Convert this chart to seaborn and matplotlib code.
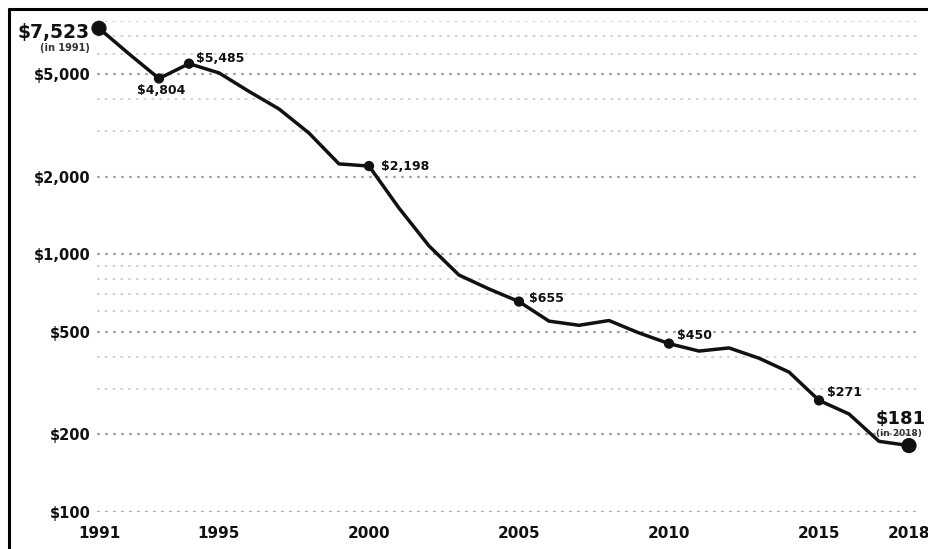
import numpy as np
import pandas as pd
import matplotlib
matplotlib.use("Agg")
import matplotlib.pyplot as plt
import seaborn as sns
from matplotlib.lines import Line2D

# ---------------- data ----------------
years = list(range(1991, 2019))
cost = [7523, 5985, 4804, 5485, 5050, 4280, 3660, 2950, 2240, 2198,
        1510, 1077, 830, 733, 655, 550, 530, 553, 495, 450,
        421, 433, 395, 349, 271, 240, 188, 181]

mid_label_years = [1993, 1994, 2000, 2005, 2010, 2015]
mid_label_texts = ["$4,804", "$5,485", "$2,198", "$655", "$450", "$271"]

end_years = [1991, 2018]
end_texts = ["$7,523", "$181"]
end_subtexts = ["(in 1991)", "(in 2018)"]

ytick_values = [100, 200, 500, 1000, 2000, 5000]
ytick_labels = ["$100", "$200", "$500", "$1,000", "$2,000", "$5,000"]
minor_grid_values = [300, 400, 600, 700, 800, 900, 3000, 4000, 6000, 7000, 8000]

xtick_values = [1991, 1995, 2000, 2005, 2010, 2015, 2018]
xtick_labels = ["1991", "1995", "2000", "2005", "2010", "2015", "2018"]

df = pd.DataFrame({"year": years, "cost": cost})
lookup = dict(zip(years, cost))

# ---------------- style ----------------
sns.set_theme(style="white")
plt.rcParams["font.family"] = ["DejaVu Sans"]

W, H = 929, 549
fig = plt.figure(figsize=(W / 100, H / 100), dpi=100)
fig.patch.set_facecolor("white")

left_px, right_px, top_px, bottom_px = 97, 917, 21.4, 512
ax = fig.add_axes([left_px / W, 1 - bottom_px / H,
                   (right_px - left_px) / W, (bottom_px - top_px) / H])
ax.set_yscale("log")
ax.set_ylim(100, 8000)
ax.set_xlim(1991 - 2 / 30, 2018 + 8 / 30)
for s in ax.spines.values():
    s.set_visible(False)
ax.set_facecolor("none")

# gridlines
for v in minor_grid_values:
    ax.axhline(v, color="#d4d4d4", lw=1.4, ls=(0, (1.4, 2.6)), zorder=0)
for v in ytick_values:
    ax.axhline(v, color="#a8a8a8", lw=1.6, ls=(0, (1.3, 2.3)), zorder=0)

# line + markers
sns.lineplot(data=df, x="year", y="cost", ax=ax, color="#111111", lw=2.5,
             zorder=3, clip_on=False)
mid_df = df[df["year"].isin(mid_label_years)]
sns.scatterplot(data=mid_df, x="year", y="cost", ax=ax, color="#111111",
                s=55, edgecolor="none", zorder=4, clip_on=False)
end_df = df[df["year"].isin(end_years)]
sns.scatterplot(data=end_df, x="year", y="cost", ax=ax, color="#111111",
                s=120, edgecolor="none", zorder=4, clip_on=False)

# ticks
ax.set_yticks(ytick_values)
ax.set_yticklabels(ytick_labels)
ax.yaxis.set_minor_locator(matplotlib.ticker.NullLocator())
ax.set_xticks(xtick_values)
ax.set_xticklabels(xtick_labels)
ax.tick_params(axis="y", length=0, pad=4.5, labelsize=10.5, labelcolor="#111111")
ax.tick_params(axis="x", length=0, pad=10, labelsize=11, labelcolor="#111111")
for t in ax.get_yticklabels() + ax.get_xticklabels():
    t.set_fontweight("bold")
ax.set_xlabel("")
ax.set_ylabel("")

# mid labels
mid_offsets = {1993: (1.5, -8.5, "center"), 1994: (5, 3.6, "left"),
               2000: (9, 0, "left"), 2005: (7, 2, "left"),
               2010: (6, 6, "left"), 2015: (6, 6, "left")}
for yr, txt in zip(mid_label_years, mid_label_texts):
    dx, dy, ha = mid_offsets[yr]
    ax.annotate(txt, (yr, lookup[yr]), xytext=(dx, dy), textcoords="offset points",
                ha=ha, va="center", fontsize=9, fontweight="bold",
                color="#111111", annotation_clip=False)

# end labels
ax.annotate(end_texts[0], (end_years[0], lookup[end_years[0]]), xytext=(-6.5, -3),
            textcoords="offset points", ha="right", va="center", fontsize=13.5,
            fontweight="bold", color="#111111", annotation_clip=False)
ax.annotate(end_subtexts[0], (end_years[0], lookup[end_years[0]]), xytext=(-6.5, -14.5),
            textcoords="offset points", ha="right", va="center", fontsize=7,
            fontweight="bold", color="#333333", annotation_clip=False)
ax.annotate(end_texts[1], (end_years[1], lookup[end_years[1]]), xytext=(-24, 19),
            textcoords="offset points", ha="left", va="center", fontsize=13,
            fontweight="bold", color="#111111", annotation_clip=False)
ax.annotate(end_subtexts[1], (end_years[1], lookup[end_years[1]]), xytext=(-24, 9),
            textcoords="offset points", ha="left", va="center", fontsize=6.5,
            fontweight="bold", color="#333333", annotation_clip=False)

# outer frame (left and top edges visible)
fig.add_artist(Line2D([9.5 / W, 9.5 / W], [-0.1, 1 - 8.5 / H], color="black",
                      lw=2.2, transform=fig.transFigure))
fig.add_artist(Line2D([9.5 / W, 1.1], [1 - 8.5 / H, 1 - 8.5 / H], color="black",
                      lw=2.2, transform=fig.transFigure))

fig.savefig("out.png", dpi=100, facecolor="white")
